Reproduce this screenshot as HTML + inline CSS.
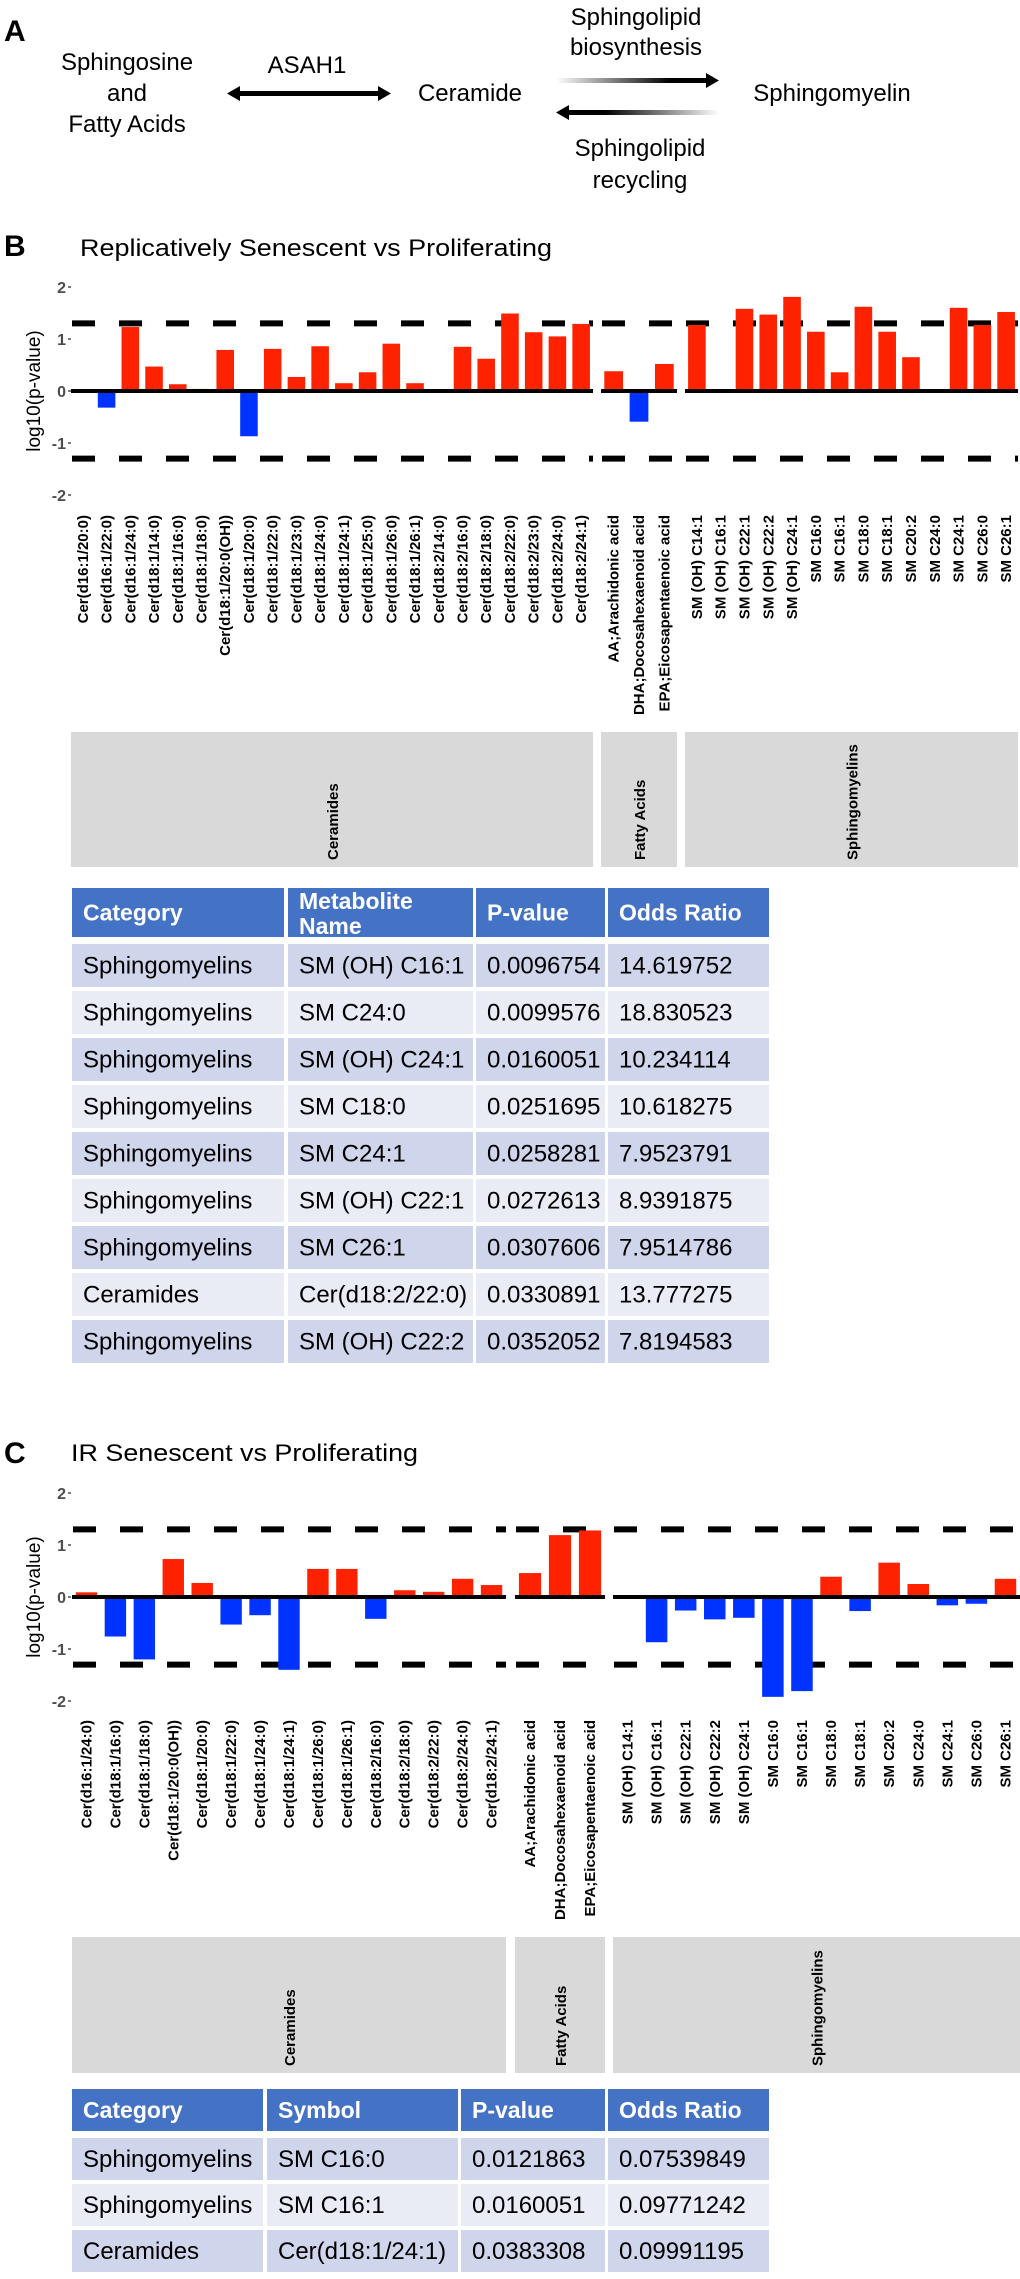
<!DOCTYPE html>
<html><head><meta charset="utf-8"><style>
html,body{margin:0;padding:0;background:#fff;}
svg{display:block;font-family:"Liberation Sans",Arial,sans-serif;}
</style></head><body>
<svg id="fig" width="1020" height="2279" viewBox="0 0 1020 2279" xmlns="http://www.w3.org/2000/svg">
<defs>
<linearGradient id="gR" x1="0" x2="1" y1="0" y2="0"><stop offset="0" stop-color="#fff"/><stop offset="0.75" stop-color="#000"/></linearGradient>
<linearGradient id="gL" x1="0" x2="1" y1="0" y2="0"><stop offset="0.25" stop-color="#000"/><stop offset="1" stop-color="#fff"/></linearGradient>
</defs>
<g>
<text x="4" y="41" font-size="30" font-weight="bold">A</text>
<g font-size="24" text-anchor="middle">
<text x="127" y="70">Sphingosine</text>
<text x="127" y="101">and</text>
<text x="127" y="132">Fatty Acids</text>
<text x="307" y="73">ASAH1</text>
<text x="470" y="101">Ceramide</text>
<text x="832" y="101">Sphingomyelin</text>
<text x="636" y="25">Sphingolipid</text>
<text x="636" y="55">biosynthesis</text>
<text x="640" y="156">Sphingolipid</text>
<text x="640" y="188">recycling</text>
</g>
<g>
<rect x="238" y="91" width="142" height="5" fill="#000"/>
<polygon points="227,93.5 240,86 240,101" fill="#000"/>
<polygon points="391,93.5 378,86 378,101" fill="#000"/>
</g>
<g>
<rect x="556" y="78" width="152" height="5" fill="url(#gR)"/>
<polygon points="719,80.5 706,73 706,88" fill="#000"/>
</g>
<g>
<rect x="567" y="110" width="152" height="5" fill="url(#gL)"/>
<polygon points="556,112.5 569,105 569,120" fill="#000"/>
</g>
</g>
<text x="4" y="256" font-size="30" font-weight="bold">B</text>
<text x="80" y="256" font-size="24" textLength="472" lengthAdjust="spacingAndGlyphs">Replicatively Senescent vs Proliferating</text>
<text x="4" y="1463" font-size="30" font-weight="bold">C</text>
<text x="71" y="1461" font-size="24" textLength="347" lengthAdjust="spacingAndGlyphs">IR Senescent vs Proliferating</text>
<g id="chartB"></g>
<g id="chartC"></g>
<g id="tableB"></g>
<g id="tableC"></g>
</svg>
<script>
const bCerLabels=["Cer(d16:1/20:0)","Cer(d16:1/22:0)","Cer(d16:1/24:0)","Cer(d18:1/14:0)","Cer(d18:1/16:0)","Cer(d18:1/18:0)","Cer(d18:1/20:0(OH))","Cer(d18:1/20:0)","Cer(d18:1/22:0)","Cer(d18:1/23:0)","Cer(d18:1/24:0)","Cer(d18:1/24:1)","Cer(d18:1/25:0)","Cer(d18:1/26:0)","Cer(d18:1/26:1)","Cer(d18:2/14:0)","Cer(d18:2/16:0)","Cer(d18:2/18:0)","Cer(d18:2/22:0)","Cer(d18:2/23:0)","Cer(d18:2/24:0)","Cer(d18:2/24:1)"];
const bCerValues=[0,-0.32,1.23,0.47,0.13,0.04,0.79,-0.87,0.81,0.27,0.86,0.15,0.36,0.91,0.15,0,0.85,0.62,1.49,1.13,1.05,1.29];
const faLabels=["AA;Arachidonic acid","DHA;Docosahexaenoid acid","EPA;Eicosapentaenoic acid"];
const bFaValues=[0.38,-0.59,0.52];
const smLabels=["SM (OH) C14:1","SM (OH) C16:1","SM (OH) C22:1","SM (OH) C22:2","SM (OH) C24:1","SM C16:0","SM C16:1","SM C18:0","SM C18:1","SM C20:2","SM C24:0","SM C24:1","SM C26:0","SM C26:1"];
const bSmValues=[1.27,0,1.58,1.47,1.81,1.14,0.36,1.62,1.14,0.65,0,1.6,1.27,1.52];
const cCerLabels=["Cer(d16:1/24:0)","Cer(d18:1/16:0)","Cer(d18:1/18:0)","Cer(d18:1/20:0(OH))","Cer(d18:1/20:0)","Cer(d18:1/22:0)","Cer(d18:1/24:0)","Cer(d18:1/24:1)","Cer(d18:1/26:0)","Cer(d18:1/26:1)","Cer(d18:2/16:0)","Cer(d18:2/18:0)","Cer(d18:2/22:0)","Cer(d18:2/24:0)","Cer(d18:2/24:1)"];
const cCerValues=[0.09,-0.76,-1.2,0.73,0.27,-0.53,-0.35,-1.4,0.54,0.54,-0.42,0.13,0.1,0.35,0.23];
const cFaValues=[0.46,1.19,1.28];
const cSmValues=[0,-0.87,-0.26,-0.43,-0.4,-1.92,-1.81,0.39,-0.27,0.66,0.25,-0.16,-0.13,0.35];
const yTicks=[2,1,0,-1,-2];
const threshold=1.3;
const categoryNames=["Ceramides","Fatty Acids","Sphingomyelins"];
const tableBHeader=["Category","Metabolite Name","P-value","Odds Ratio"];
const tableBCategory=["Sphingomyelins","Sphingomyelins","Sphingomyelins","Sphingomyelins","Sphingomyelins","Sphingomyelins","Sphingomyelins","Ceramides","Sphingomyelins"];
const tableBName=["SM (OH) C16:1","SM C24:0","SM (OH) C24:1","SM C18:0","SM C24:1","SM (OH) C22:1","SM C26:1","Cer(d18:2/22:0)","SM (OH) C22:2"];
const tableBP=["0.0096754","0.0099576","0.0160051","0.0251695","0.0258281","0.0272613","0.0307606","0.0330891","0.0352052"];
const tableBOR=["14.619752","18.830523","10.234114","10.618275","7.9523791","8.9391875","7.9514786","13.777275","7.8194583"];
const tableCHeader=["Category","Symbol","P-value","Odds Ratio"];
const tableCCategory=["Sphingomyelins","Sphingomyelins","Ceramides"];
const tableCName=["SM C16:0","SM C16:1","Cer(d18:1/24:1)"];
const tableCP=["0.0121863","0.0160051","0.0383308"];
const tableCOR=["0.07539849","0.09771242","0.09991195"];

const NS="http://www.w3.org/2000/svg";
function mk(tag,attrs,parent){const e=document.createElementNS(NS,tag);for(const k in attrs)e.setAttribute(k,attrs[k]);parent.appendChild(e);return e;}

function drawChart(g,cfg){
  const y=v=>cfg.y0-v*cfg.unit;
  yTicks.forEach(t=>{
    const tx=mk('text',{x:66,y:y(t)+6,'font-size':16,'font-weight':'bold','text-anchor':'end',fill:'#4d4d4d'},g);
    tx.textContent=String(t);
    
    
    const tl=mk('line',{x1:68,x2:71,y1:y(t),y2:y(t),stroke:'#4d4d4d','stroke-width':1.5},g);
    
    
  });
  const at=mk('text',{x:0,y:0,'font-size':19,'text-anchor':'middle',transform:`translate(40,${cfg.y0}) rotate(-90)`},g);
  at.textContent='log10(p-value)';
  
  
  cfg.panels.forEach((p,pi)=>{
    const n=p.labels.length, band=(p.x1-p.x0)/n, bw=band*0.74;
    [threshold,-threshold].forEach(th=>{
      const dl=mk('line',{x1:p.x0+1,x2:p.x1,y1:y(th),y2:y(th),stroke:'#000','stroke-width':6,'stroke-dasharray':'23 24'},g);
      
      
    });
    p.values.forEach((v,i)=>{
      const cx=p.x0+band*(i+0.5);
      if(v!==0){
        const r=mk('rect',{x:cx-bw/2,y:Math.min(y(v),y(0)),width:bw,height:Math.abs(y(v)-y(0)),fill:v>0?'#ff2200':'#0033ff'},g);
        
        
      }
      const lt=mk('text',{x:0,y:0,'font-size':15,'font-weight':'bold','text-anchor':'end',transform:`translate(${cx+5},${cfg.labelEnd}) rotate(-90)`},g);
      lt.textContent=p.labels[i];
      
      
    });
    const zl=mk('rect',{x:p.x0,y:y(0)-2,width:p.x1-p.x0,height:4,fill:'#000'},g);
    
    
    const s=mk('rect',{x:p.x0,y:cfg.stripY0,width:p.x1-p.x0,height:cfg.stripY1-cfg.stripY0,fill:'#d9d9d9'},g);
    
    
    const st=mk('text',{x:0,y:0,'font-size':15,'font-weight':'bold',transform:`translate(${(p.x0+p.x1)/2+6},${cfg.stripY1-7}) rotate(-90)`},g);
    st.textContent=categoryNames[pi];
    
    
  });
}
drawChart(document.getElementById('chartB'),{y0:391,unit:52,labelEnd:515,stripY0:732,stripY1:867,panels:[
  {x0:71,x1:593,labels:bCerLabels,values:bCerValues},
  {x0:601,x1:677,labels:faLabels,values:bFaValues},
  {x0:685,x1:1018,labels:smLabels,values:bSmValues}]});
drawChart(document.getElementById('chartC'),{y0:1597,unit:52,labelEnd:1720,stripY0:1937,stripY1:2073,panels:[
  {x0:72,x1:506,labels:cCerLabels,values:cCerValues},
  {x0:515,x1:605,labels:faLabels,values:cFaValues},
  {x0:613,x1:1020,labels:smLabels,values:cSmValues}]});

function drawTable(g,cfg){
  const cols=cfg.cols;
  cols.forEach((c,ci)=>{
    const h=mk('rect',{x:c[0],y:cfg.hy0,width:c[1]-c[0],height:cfg.hy1-cfg.hy0,fill:'#4472c4'},g);
    
    
    const lines=cfg.header[ci]==='Metabolite Name'?['Metabolite','Name']:[cfg.header[ci]];
    lines.forEach((ln,li)=>{
      const cy=lines.length===1?(cfg.hy0+cfg.hy1)/2:cfg.hy0+13+li*25;
      const t=mk('text',{x:c[0]+11,y:cy+8,'font-size':23,'font-weight':'bold',fill:'#fff'},g);
      t.textContent=ln;
      
      
    });
  });
  const data=[cfg.cat,cfg.name,cfg.p,cfg.or];
  cfg.cat.forEach((_,ri)=>{
    const ry=cfg.ry0+ri*cfg.pitch;
    cols.forEach((c,ci)=>{
      const r=mk('rect',{x:c[0],y:ry,width:c[1]-c[0],height:cfg.rh,fill:ri%2===0?'#cfd5ea':'#e9ebf5'},g);
      
      
      const t=mk('text',{x:c[0]+11,y:ry+cfg.rh/2+8,'font-size':24,fill:'#000'},g);
      t.textContent=data[ci][ri];
      
      
    });
  });
}
drawTable(document.getElementById('tableB'),{cols:[[72,284],[288,473],[476,605],[608,769]],hy0:888,hy1:937,ry0:944,pitch:47,rh:43,header:tableBHeader,cat:tableBCategory,name:tableBName,p:tableBP,or:tableBOR});
drawTable(document.getElementById('tableC'),{cols:[[72,263],[267,458],[461,605],[608,769]],hy0:2089,hy1:2131,ry0:2138,pitch:46,rh:42,header:tableCHeader,cat:tableCCategory,name:tableCName,p:tableCP,or:tableCOR});
</script>
</body></html>
